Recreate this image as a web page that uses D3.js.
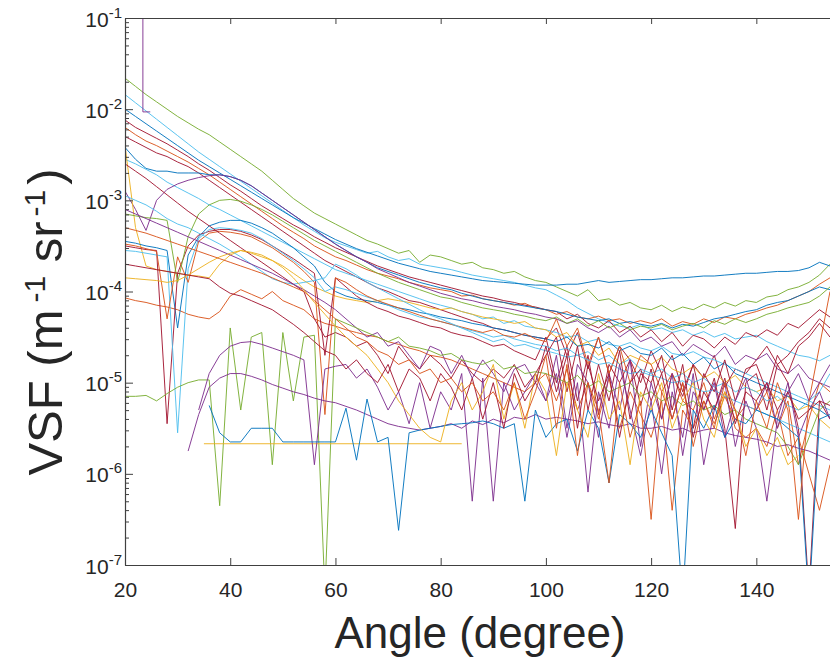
<!DOCTYPE html>
<html><head><meta charset="utf-8">
<script src="https://cdn.jsdelivr.net/npm/d3@7"></script>
<style>
body{margin:0;background:#fff;}
svg{display:block;}
text{font-family:"Liberation Sans",Arial,Helvetica,sans-serif;fill:#262626;}
</style>
</head><body>
<svg id="chart" width="830" height="660"></svg>
<script>
// ---------------- DATA (values are log10 of VSF, m^-1 sr^-1) ----------------
const angles = [20,22,24,26,28,30,32,34,36,38,40,42,44,46,48,50,52,54,56,58,
  60,62,64,66,68,70,72,74,76,78,80,82,84,86,88,90,92,94,96,98,
  100,102,104,106,108,110,112,114,116,118,120,122,124,126,128,130,132,134,136,138,
  140,142,144,146,148,150,152,154];

const s01 = [-1.66,-1.75,-1.84,-1.92,-2.0,-2.08,-2.15,-2.22,-2.28,-2.36,
  -2.44,-2.52,-2.6,-2.68,-2.78,-2.88,-2.98,-3.06,-3.14,-3.2,
  -3.26,-3.32,-3.38,-3.44,-3.48,-3.53,-3.58,-3.55,-3.68,-3.6,
  -3.62,-3.66,-3.7,-3.68,-3.74,-3.76,-3.8,-3.78,-3.84,-3.88,
  -3.9,-3.95,-4.0,-4.05,-3.98,-4.1,-4.08,-4.15,-4.12,-4.18,
  -4.2,-4.15,-4.22,-4.17,-4.2,-4.14,-4.18,-4.12,-4.16,-4.1,
  -4.12,-4.06,-4.04,-3.98,-3.95,-3.9,-3.82,-3.7];
const s02 = [-1.84,-1.93,-2.02,-2.11,-2.2,-2.29,-2.38,-2.47,-2.55,-2.63,
  -2.71,-2.79,-2.87,-2.95,-3.03,-3.11,-3.19,-3.27,-3.34,-3.41,
  -3.46,-3.5,-3.54,-3.58,-3.56,-3.62,-3.66,-3.64,-3.7,-3.72,
  -3.74,-3.76,-3.79,-3.82,-3.84,-3.86,-3.88,-3.9,-3.93,-3.96,
  -3.98,-4.04,-4.1,-4.18,-4.24,-4.3,-4.34,-4.38,-4.4,-4.36,
  -4.42,-4.4,-4.45,-4.42,-4.48,-4.44,-4.5,-4.46,-4.52,-4.5,
  -4.48,-4.55,-4.6,-4.65,-4.7,-4.72,-4.76,-4.7];
const s03 = [-2.0,-2.08,-2.16,-2.24,-2.32,-2.4,-2.48,-2.56,-2.63,-2.7,
  -2.77,-2.84,-2.91,-2.98,-3.05,-3.12,-3.19,-3.25,-3.31,-3.37,
  -3.43,-3.48,-3.53,-3.57,-3.61,-3.65,-3.69,-3.72,-3.75,-3.78,
  -3.8,-3.82,-3.84,-3.86,-3.88,-3.89,-3.9,-3.91,-3.92,-3.93,
  -3.93,-3.93,-3.92,-3.92,-3.9,-3.88,-3.9,-3.89,-3.88,-3.87,
  -3.87,-3.86,-3.85,-3.85,-3.84,-3.83,-3.83,-3.82,-3.81,-3.8,
  -3.8,-3.79,-3.78,-3.78,-3.77,-3.74,-3.68,-3.72];
const s04 = [-2.12,-2.2,-2.26,-2.32,-2.38,-2.45,-2.52,-2.6,-2.67,-2.75,
  -2.83,-2.9,-2.98,-3.06,-3.13,-3.2,-3.27,-3.33,-3.4,-3.46,
  -3.52,-3.57,-3.62,-3.67,-3.72,-3.76,-3.8,-3.84,-3.87,-3.9,
  -3.93,-3.96,-3.99,-4.02,-4.05,-4.07,-4.1,-4.12,-4.15,-4.17,
  -4.2,-4.22,-4.3,-4.25,-4.35,-4.4,-4.32,-4.45,-4.38,-4.5,
  -4.42,-4.55,-4.45,-4.6,-4.48,-4.52,-4.62,-4.5,-4.58,-4.45,
  -4.5,-4.42,-4.48,-4.35,-4.4,-4.3,-4.2,-4.28];
const s05 = [-2.2,-2.28,-2.35,-2.4,-2.46,-2.52,-2.58,-2.65,-2.72,-2.8,
  -2.88,-2.96,-3.04,-3.12,-3.2,-3.28,-3.35,-3.42,-3.5,-3.56,
  -3.62,-3.66,-3.71,-3.76,-3.8,-3.83,-3.86,-3.9,-3.93,-3.96,
  -3.98,-4.0,-4.05,-4.04,-4.08,-4.1,-4.12,-4.15,-4.13,-4.18,
  -4.2,-4.25,-4.22,-4.28,-4.3,-4.27,-4.32,-4.3,-4.35,-4.32,
  -4.35,-4.3,-4.38,-4.33,-4.36,-4.3,-4.34,-4.28,-4.3,-4.25,
  -4.22,-4.18,-4.15,-4.1,-4.05,-4.0,-3.92,-3.85];
const s06 = [-2.3,-2.36,-2.42,-2.48,-2.52,-2.58,-2.63,-2.7,-2.78,-2.86,
  -2.94,-3.02,-3.1,-3.18,-3.26,-3.34,-3.42,-3.5,-3.58,-3.66,
  -3.72,-3.78,-3.84,-3.9,-3.96,-4.0,-4.05,-4.1,-4.12,-4.16,
  -4.2,-4.24,-4.28,-4.32,-4.35,-4.4,-4.42,-4.45,-4.48,-4.5,
  -4.52,-4.4,-4.7,-4.45,-4.85,-4.5,-4.9,-4.6,-4.75,-5.0,
  -4.65,-4.9,-4.7,-5.1,-4.8,-4.95,-4.7,-5.05,-4.85,-4.9,
  -4.75,-4.6,-4.8,-4.7,-4.55,-4.45,-4.3,-4.4];
const s07 = [-2.42,-2.55,-2.65,-2.68,-2.68,-2.7,-2.7,-2.7,-2.72,-2.72,
  -2.74,-2.78,-2.84,-2.92,-3.0,-3.08,-3.16,-3.24,-3.32,-3.4,
  -3.48,-3.55,-3.62,-3.68,-3.74,-3.78,-3.82,-3.86,-3.9,-3.93,
  -3.96,-3.98,-4.02,-4.05,-4.08,-4.1,-4.12,-4.14,-4.16,-4.18,
  -4.2,-4.22,-4.25,-4.28,-4.3,-4.32,-4.3,-4.35,-4.33,-4.36,
  -4.38,-4.35,-4.4,-4.36,-4.38,-4.34,-4.3,-4.28,-4.25,-4.22,
  -4.2,-4.15,-4.12,-4.1,-4.05,-4.0,-3.95,-3.98];
const s08 = [-2.55,-2.6,-2.66,-2.72,-2.8,-2.86,-2.92,-2.98,-3.05,-3.1,
  -3.16,-3.22,-3.28,-3.34,-3.4,-3.46,-3.52,-3.58,-3.64,-3.7,
  -3.76,-3.8,-3.84,-3.88,-3.92,-3.96,-4.0,-4.04,-4.08,-4.12,
  -4.15,-4.18,-4.22,-4.25,-4.3,-4.28,-4.35,-4.32,-4.38,-4.4,
  -4.42,-4.45,-4.5,-4.48,-4.55,-4.52,-4.58,-4.6,-4.56,-4.62,
  -4.65,-4.6,-4.68,-4.7,-4.66,-4.72,-4.75,-4.8,-4.85,-4.9,
  -4.95,-5.0,-5.05,-5.1,-5.15,-5.2,-5.25,-5.3];
const s09 = [-2.9,-3.1,-3.33,-3.0,-2.88,-2.82,-2.78,-2.75,-2.73,-2.72,
  -2.74,-2.78,-2.84,-2.92,-3.0,-3.08,-3.16,-3.24,-3.32,-3.4,
  -3.48,-3.55,-3.62,-3.68,-3.75,-3.8,-3.85,-3.9,-3.94,-3.98,
  -4.02,-4.05,-4.08,-4.1,-4.13,-4.16,-4.18,-4.2,-4.23,-4.25,
  -4.28,-4.3,-4.35,-4.32,-4.4,-4.45,-4.38,-4.5,-4.42,-4.55,
  -4.5,-4.6,-4.55,-4.7,-4.58,-4.65,-4.72,-4.6,-4.8,-4.7,
  -4.75,-4.68,-4.85,-4.9,-4.8,-4.95,-5.0,-5.05];
const s10 = [-2.4,-3.3,-3.72,-3.76,-3.78,-3.8,-3.82,-3.83,-3.85,-3.7,
  -3.6,-3.55,-3.58,-3.62,-3.66,-3.72,-3.8,-3.88,-3.95,-4.0,
  -4.05,-4.08,-4.1,-4.12,-4.1,-4.08,-4.1,-4.12,-4.15,-4.18,
  -4.2,-4.18,-4.22,-4.25,-4.28,-4.3,-4.32,-4.35,-4.33,-4.4,
  -4.42,-4.5,-4.45,-4.6,-4.55,-4.7,-4.62,-4.8,-4.7,-4.75,
  -4.8,-4.72,-4.85,-4.9,-4.82,-4.95,-4.88,-5.0,-4.92,-5.05,
  -5.1,-5.05,-5.2,-5.15,-5.3,-5.25,-5.4,-5.5];
const s11 = [-4.07,-4.1,-4.12,-4.15,-4.17,-4.2,-4.25,-4.28,-4.3,-4.22,
  -4.05,-3.98,-4.03,-4.08,-4.0,-4.1,-4.15,-4.2,-4.3,-4.35,
  -4.38,-4.42,-4.45,-4.48,-4.5,-4.55,-4.58,-4.62,-4.65,-4.7,
  -4.72,-4.75,-4.8,-4.85,-4.9,-4.95,-5.0,-5.05,-5.1,-5.0,
  -4.9,-5.2,-4.85,-5.3,-5.0,-5.4,-4.95,-5.5,-5.1,-5.35,
  -5.6,-5.2,-6.4,-5.3,-5.5,-5.2,-5.45,-5.15,-5.4,-5.25,
  -5.3,-5.1,-5.5,-5.2,-5.9,-5.4,-5.0,-5.1];
const s12 = [-3.45,-3.47,-3.5,-3.52,-3.55,-4.4,-3.6,-3.4,-3.28,-3.24,
  -3.22,-3.22,-3.25,-3.3,-3.36,-3.44,-3.52,-3.62,-3.72,-3.9,
  -4.0,-4.05,-4.08,-4.1,-4.12,-4.15,-4.18,-4.2,-4.23,-4.25,
  -4.28,-4.3,-4.32,-4.35,-4.37,-4.4,-4.42,-4.45,-4.48,-4.5,
  -4.52,-4.55,-4.5,-4.6,-4.58,-4.62,-4.55,-4.65,-4.6,-4.68,
  -4.7,-4.62,-4.75,-4.68,-4.8,-4.72,-4.85,-4.78,-4.9,-4.95,
  -5.0,-5.05,-5.1,-5.15,-5.2,-5.25,-5.3,-5.38];
const s13 = [-3.5,-3.52,-3.54,-3.55,-5.45,-3.8,-3.5,-3.38,-3.34,-3.32,
  -3.32,-3.34,-3.38,-3.43,-3.5,-3.57,-3.64,-3.72,-3.8,-4.7,
  -3.85,-3.95,-4.05,-4.12,-4.18,-4.22,-4.27,-4.3,-4.34,-4.38,
  -4.4,-4.45,-4.48,-4.5,-4.55,-4.6,-4.58,-4.65,-4.7,-4.75,
  -4.5,-5.0,-4.6,-5.2,-4.7,-5.35,-4.8,-5.0,-4.75,-5.25,
  -4.85,-5.4,-4.9,-5.15,-4.8,-5.3,-4.95,-5.5,-6.6,-5.0,
  -4.9,-5.3,-4.8,-5.0,-5.5,-7.3,-5.2,-5.4];
const s14 = [-3.55,-3.56,-3.58,-3.6,-3.62,-5.55,-3.75,-3.42,-3.32,-3.3,
  -3.31,-3.33,-3.36,-3.42,-3.5,-3.58,-3.66,-3.75,-3.85,-4.0,
  -3.95,-3.98,-4.02,-4.06,-4.1,-4.15,-4.2,-4.24,-4.28,-4.3,
  -4.33,-4.36,-4.4,-4.43,-4.46,-4.5,-4.48,-4.52,-4.55,-4.58,
  -4.6,-4.65,-4.62,-4.7,-4.66,-4.75,-4.7,-4.8,-4.74,-4.85,
  -4.9,-4.85,-4.95,-4.9,-5.0,-4.95,-5.05,-5.0,-5.1,-5.05,
  -5.1,-5.2,-5.15,-5.25,-5.3,-5.2,-5.1,-4.9];
const s15 = [-3.48,-3.5,-3.53,-3.56,-4.3,-3.62,-3.9,-3.45,-3.36,-3.34,
  -3.35,-3.37,-3.4,-3.46,-3.52,-3.6,-3.68,-3.78,-3.9,-5.35,
  -3.85,-3.9,-3.98,-4.05,-4.1,-4.14,-4.18,-4.22,-4.26,-4.3,
  -4.33,-4.36,-4.39,-4.42,-4.45,-4.42,-4.48,-4.5,-4.46,-4.52,
  -4.55,-4.3,-4.6,-4.4,-4.8,-4.5,-4.9,-4.6,-5.0,-4.7,
  -4.8,-5.1,-4.9,-5.2,-5.3,-5.0,-5.4,-5.1,-5.5,-5.6,
  -5.5,-5.7,-5.3,-5.8,-5.6,-6.0,-6.4,-5.9];
const s16 = [-2.95,-3.0,-3.05,-3.12,-3.2,-3.26,-3.3,-3.36,-3.42,-3.48,
  -3.55,-3.62,-3.7,-3.78,-3.86,-3.9,-3.92,-3.9,-3.88,-3.85,
  -3.7,-3.75,-3.82,-3.9,-3.96,-4.02,-4.08,-4.14,-4.2,-4.26,
  -4.3,-4.35,-4.4,-4.45,-4.5,-4.55,-4.52,-4.6,-4.58,-4.62,
  -4.65,-4.68,-4.72,-4.7,-4.75,-4.8,-4.78,-4.85,-4.9,-4.88,
  -4.92,-4.95,-5.0,-4.98,-5.05,-5.1,-5.08,-5.15,-5.2,-5.25,
  -5.3,-5.35,-5.4,-5.45,-5.5,-5.55,-5.6,-5.65];
const s17 = [-3.15,-3.17,-3.19,-3.2,-3.22,-3.9,-3.4,-3.15,-3.05,-3.0,
  -2.99,-3.01,-3.05,-3.1,-3.16,-3.23,-3.3,-3.37,-3.44,-3.5,
  -3.56,-3.62,-3.68,-3.74,-3.8,-3.85,-3.9,-3.94,-3.98,-4.02,
  -4.06,-4.08,-4.12,-4.15,-4.18,-4.2,-4.22,-4.25,-4.27,-4.3,
  -4.32,-4.28,-4.35,-4.3,-4.38,-4.32,-4.4,-4.35,-4.42,-4.38,
  -4.4,-4.36,-4.42,-4.38,-4.35,-4.4,-4.32,-4.36,-4.3,-4.34,
  -4.3,-4.25,-4.22,-4.18,-4.15,-4.12,-4.05,-3.95];
const s18 = [-2.6,-2.68,-2.76,-2.85,-2.94,-3.03,-3.12,-3.2,-3.28,-3.36,
  -3.44,-3.52,-3.6,-3.68,-3.76,-3.84,-3.92,-4.0,-4.3,-4.5,
  -4.45,-4.5,-4.6,-4.55,-4.7,-4.9,-4.6,-4.75,-4.85,-4.7,
  -4.8,-4.95,-4.75,-4.9,-5.0,-4.85,-4.95,-4.8,-5.05,-4.9,
  -4.7,-4.5,-5.1,-4.6,-5.3,-4.8,-5.2,-4.65,-5.4,-4.9,
  -5.0,-4.7,-5.3,-4.8,-5.5,-4.9,-5.1,-4.75,-5.2,-4.85,
  -4.8,-5.1,-4.7,-4.9,-4.6,-4.5,-4.35,-4.5];
const s19 = [-3.1,-3.15,-3.2,-3.25,-3.3,-3.35,-3.4,-3.45,-3.5,-3.55,
  -3.6,-3.65,-3.7,-3.75,-3.8,-3.86,-3.92,-3.98,-4.05,-4.12,
  -4.2,-4.3,-4.4,-4.5,-4.45,-4.6,-4.55,-4.7,-4.85,-4.6,
  -4.65,-4.9,-4.7,-4.95,-4.75,-4.9,-5.1,-4.85,-4.8,-5.0,
  -5.2,-4.7,-5.5,-4.8,-5.0,-5.6,-4.9,-5.3,-4.75,-5.7,
  -5.0,-5.4,-4.9,-5.8,-5.1,-5.3,-5.0,-5.6,-5.2,-4.95,
  -5.3,-5.0,-5.5,-5.1,-4.9,-5.2,-5.0,-4.8];
const s20 = [-5.15,-5.15,-5.14,-5.2,-5.12,-5.05,-5.0,-4.97,-4.97,-6.35,
  -4.4,-5.3,-4.5,-4.45,-5.9,-4.45,-5.2,-4.5,-4.48,-7.3,
  -4.3,-4.35,-4.4,-4.45,-4.5,-4.55,-4.5,-4.6,-4.62,-4.65,
  -4.7,-4.68,-4.75,-4.78,-4.8,-4.75,-4.85,-4.82,-4.9,-4.88,
  -4.9,-4.95,-5.0,-4.92,-5.05,-4.98,-5.1,-5.05,-5.0,-5.15,
  -5.1,-5.2,-5.15,-5.25,-5.2,-5.3,-5.25,-5.35,-5.3,-5.4,
  -5.45,-5.5,-5.55,-5.7,-5.9,-5.6,-5.3,-5.2];
const s21 = [null,null,null,null,null,null,-5.75,-5.35,-5.05,-4.95,
  -4.9,-4.9,-4.93,-4.97,-5.02,-5.06,-5.1,-5.13,-5.17,-5.2,
  -5.22,-5.26,-5.3,-5.35,-5.4,-5.45,-5.48,-5.5,-5.52,-5.5,
  -5.48,-5.45,-5.5,-5.42,-5.46,-5.4,-5.44,-5.38,-5.4,-5.35,
  -5.4,-5.38,-5.4,-5.42,-5.45,-5.43,-5.46,-5.48,-5.45,-5.5,
  -5.5,-5.48,-5.52,-5.5,-5.55,-5.52,-5.5,-5.55,-5.58,-5.6,
  -5.62,-5.65,-5.7,-5.68,-5.72,-5.75,-5.8,-5.85];
const s22 = [null,null,null,null,null,null,null,-5.3,-4.9,-4.7,
  -4.6,-4.56,-4.55,-4.58,-4.62,-4.66,-4.7,-4.75,-5.9,-4.85,
  -4.82,-4.8,-4.95,-4.85,-5.05,-5.3,-5.1,-5.45,-5.0,-5.5,
  -5.1,-5.3,-4.9,-6.3,-4.95,-6.3,-5.0,-5.3,-5.1,-4.9,
  -5.2,-4.9,-5.6,-5.0,-6.2,-5.1,-5.5,-4.8,-5.3,-5.8,
  -5.2,-6.0,-5.1,-5.6,-4.9,-5.9,-5.3,-5.0,-5.7,-5.2,
  -5.5,-6.3,-5.4,-5.0,-5.6,-5.3,-5.1,-5.4];
const s23 = [null,null,null,null,null,null,null,null,-5.25,-5.55,
  -5.65,-5.65,-5.5,-5.5,-5.5,-5.65,-5.65,-5.65,-5.65,-5.65,
  -5.65,-5.28,-5.85,-5.18,-5.65,-5.6,-6.62,-5.55,-5.52,-5.5,
  -5.48,-5.46,-5.45,-5.44,-5.42,-5.45,-5.5,-5.45,-6.3,-5.3,
  -5.6,-5.45,-5.4,-5.75,-5.3,-5.5,-6.1,-5.35,-5.45,-5.6,
  -5.3,-5.55,-5.8,-7.4,-5.3,-5.5,-5.25,-5.6,-5.4,-5.45,
  -5.3,-5.35,-5.4,-5.5,-5.6,-7.4,-5.4,-5.35];
const s25 = [-3.85,-3.86,-3.87,-3.88,-3.9,-3.88,-3.82,-3.75,-3.68,-3.62,
  -3.58,-3.55,-3.57,-3.6,-3.66,-3.74,-3.85,-3.98,-4.12,-4.25,
  -4.38,-4.5,-4.6,-4.7,-4.85,-5.0,-5.2,-5.35,-5.5,-5.6,
  -5.65,-5.2,-5.0,-5.3,-5.1,-4.8,-5.4,-5.0,-5.5,-4.9,
  -5.1,-5.8,-5.0,-5.3,-5.6,-4.9,-5.4,-5.2,-5.9,-5.1,
  -5.3,-5.0,-5.5,-5.2,-5.0,-5.4,-5.6,-5.1,-5.3,-5.7,
  -5.5,-5.8,-5.6,-5.9,-5.8,null,null,null];
const s27 = [-3.7,-3.72,-3.74,-3.76,-3.78,-3.8,-3.82,-3.84,-3.86,-3.95,
  -4.02,-4.05,-4.1,-4.15,-4.2,-4.28,-4.36,-4.45,-4.55,-4.65,
  -4.7,-4.85,-4.75,-4.9,-5.0,-4.8,-5.1,-4.85,-4.95,-5.2,
  -4.9,-5.05,-5.3,-4.95,-5.4,-5.0,-5.5,-4.9,-5.2,-5.0,
  -4.6,-5.1,-4.7,-5.5,-4.8,-5.2,-4.9,-5.6,-5.0,-4.85,
  -5.2,-4.9,-5.4,-5.0,-5.6,-5.1,-5.3,-4.95,-5.45,-5.1,
  -5.2,-5.0,-5.3,-5.1,-5.4,-5.3,-5.2,-5.25];
const s28 = [-3.3,-3.33,-3.36,-3.4,-3.44,-3.48,-3.52,-3.56,-3.6,-3.64,
  -3.68,-3.72,-3.76,-3.8,-3.85,-3.9,-3.95,-4.0,-4.1,-4.2,
  -4.3,-4.4,-4.5,-4.55,-4.65,-4.7,-4.8,-4.75,-4.9,-4.85,
  -5.0,-4.95,-5.1,-5.0,-5.2,-5.1,-5.3,-5.0,-5.4,-5.1,
  -4.7,-5.5,-4.8,-5.8,-5.0,-5.3,-6.1,-5.0,-5.6,-5.2,
  -6.5,-5.1,-5.4,-5.0,-5.7,-5.2,-5.5,-5.0,-5.3,-5.8,
  -5.2,-5.5,-5.0,-5.3,-6.5,-5.2,-4.6,-4.0];

// short series with their own angle samples
const flatAngles = [35, 84];
const flatValues = [-5.67, -5.67];
const spikeAngles = [23.4, 23.4, 24.8];
const spikeValues = [-0.5, -2.03, -2.03];

const gridSeries = [s01,s02,s03,s04,s05,s06,s07,s08,s09,s10,s11,s12,s13,s14,
  s15,s16,s17,s18,s19,s20,s21,s22,s23,s25,s27,s28];
const gridColorNames = ["green","cyan","blue","darkred","orange","darkred","blue",
  "cyan","purple","yellow","orange","blue","darkred","cyan","orange","cyan","green",
  "darkred","purple","green","purple","purple","blue","yellow","darkred","orange"];

const xTicks = [20,40,60,80,100,120,140];
const yTickExponents = [-1,-2,-3,-4,-5,-6,-7];
const xLabel = "Angle (degree)";

// ---------------- STYLE ----------------
const palette = {blue:"#0072BD", orange:"#D95319", yellow:"#EDB120", purple:"#7E2F8E",
  green:"#77AC30", cyan:"#4DBEEE", darkred:"#A2142F"};

const L = 125, R = 830, T = 18, B = 565;
const svg = d3.select("#chart");
const x = d3.scaleLinear().domain([20, 154]).range([L, R]);
const y = d3.scaleLog().domain([1e-7, 1e-1]).range([B, T]);

svg.append("defs").append("clipPath").attr("id","plotClip")
  .append("rect").attr("x",L).attr("y",T).attr("width",R-L).attr("height",B-T);

const line = d3.line()
  .defined(d => d.v !== null)
  .x(d => x(d.a))
  .y(d => y(Math.pow(10, d.v)));

const allSeries = gridSeries.map((vals,i) => ({
  pts: angles.map((a,j) => ({a, v: vals[j] === undefined ? null : vals[j]})),
  color: palette[gridColorNames[i]]
}));
allSeries.splice(20, 0, {pts: flatAngles.map((a,j)=>({a, v: flatValues[j]})), color: palette.yellow});
allSeries.push({pts: spikeAngles.map((a,j)=>({a, v: spikeValues[j]})), color: palette.purple});

const gLines = svg.append("g").attr("clip-path","url(#plotClip)");
gLines.selectAll("path").data(allSeries).join("path")
  .attr("d", d => line(d.pts))
  .attr("fill","none")
  .attr("stroke", d => d.color)
  .attr("stroke-width", 1.0)
  .attr("stroke-opacity", 0.92)
  .attr("stroke-linejoin","round");

// ---------------- AXES ----------------
const axisColor = "#404040";
function styleAxis(g){
  g.selectAll(".domain").attr("stroke", axisColor).attr("stroke-width",1.2);
  g.selectAll(".tick line").attr("stroke", axisColor).attr("stroke-width",1);
}
// bottom
const gx = svg.append("g").attr("transform",`translate(0,${B})`)
  .call(d3.axisBottom(x).tickValues(xTicks).tickSizeInner(-7).tickSizeOuter(0).tickPadding(17));
styleAxis(gx);
gx.selectAll(".tick text").attr("font-size",21).attr("fill","#262626")
  .attr("font-family","'Liberation Sans', Arial, sans-serif");
// top
const gt = svg.append("g").attr("transform",`translate(0,${T})`)
  .call(d3.axisTop(x).tickValues(xTicks).tickSizeInner(-6).tickSizeOuter(0).tickFormat(""));
styleAxis(gt);

// left major
const decades = yTickExponents.map(e => Math.pow(10, e));
const gy = svg.append("g").attr("transform",`translate(${L},0)`)
  .call(d3.axisLeft(y).tickValues(decades).tickSizeInner(-8).tickSizeOuter(0).tickFormat(""));
styleAxis(gy);
gy.selectAll(".tick").each(function(d){
  const e = Math.round(Math.log10(d));
  const t = d3.select(this).append("text")
    .attr("x", -3).attr("y", 8)
    .attr("text-anchor","end")
    .attr("font-size",21).attr("fill","#262626")
    .attr("font-family","'Liberation Sans', Arial, sans-serif");
  t.append("tspan").text("10");
  t.append("tspan").attr("dy",-9).attr("font-size",15).text(String(e));
});
// left minor
const minor = [];
for (let e = -7; e < -1; e++) for (let k = 2; k <= 9; k++) minor.push(k*Math.pow(10,e));
const gym = svg.append("g").attr("transform",`translate(${L},0)`)
  .call(d3.axisLeft(y).tickValues(minor).tickSizeInner(-4).tickSizeOuter(0).tickFormat(""));
gym.select(".domain").remove();
gym.selectAll(".tick line").attr("stroke", axisColor).attr("stroke-width",1);

// ---------------- LABELS ----------------
svg.append("text")
  .attr("x", 480).attr("y", 648)
  .attr("text-anchor","middle")
  .attr("font-size",44)
  .text(xLabel);

const yl = svg.append("text")
  .attr("transform","translate(62,322) rotate(-90)")
  .attr("text-anchor","middle")
  .attr("font-size",49);
yl.append("tspan").text("VSF (m");
yl.append("tspan").attr("dx",7).attr("dy",-17).attr("font-size",30).text("-1");
yl.append("tspan").attr("dy",17).text(" sr");
yl.append("tspan").attr("dx",5).attr("dy",-17).attr("font-size",30).text("-1");
yl.append("tspan").attr("dx",5).attr("dy",17).text(")");
</script>
</body></html>
